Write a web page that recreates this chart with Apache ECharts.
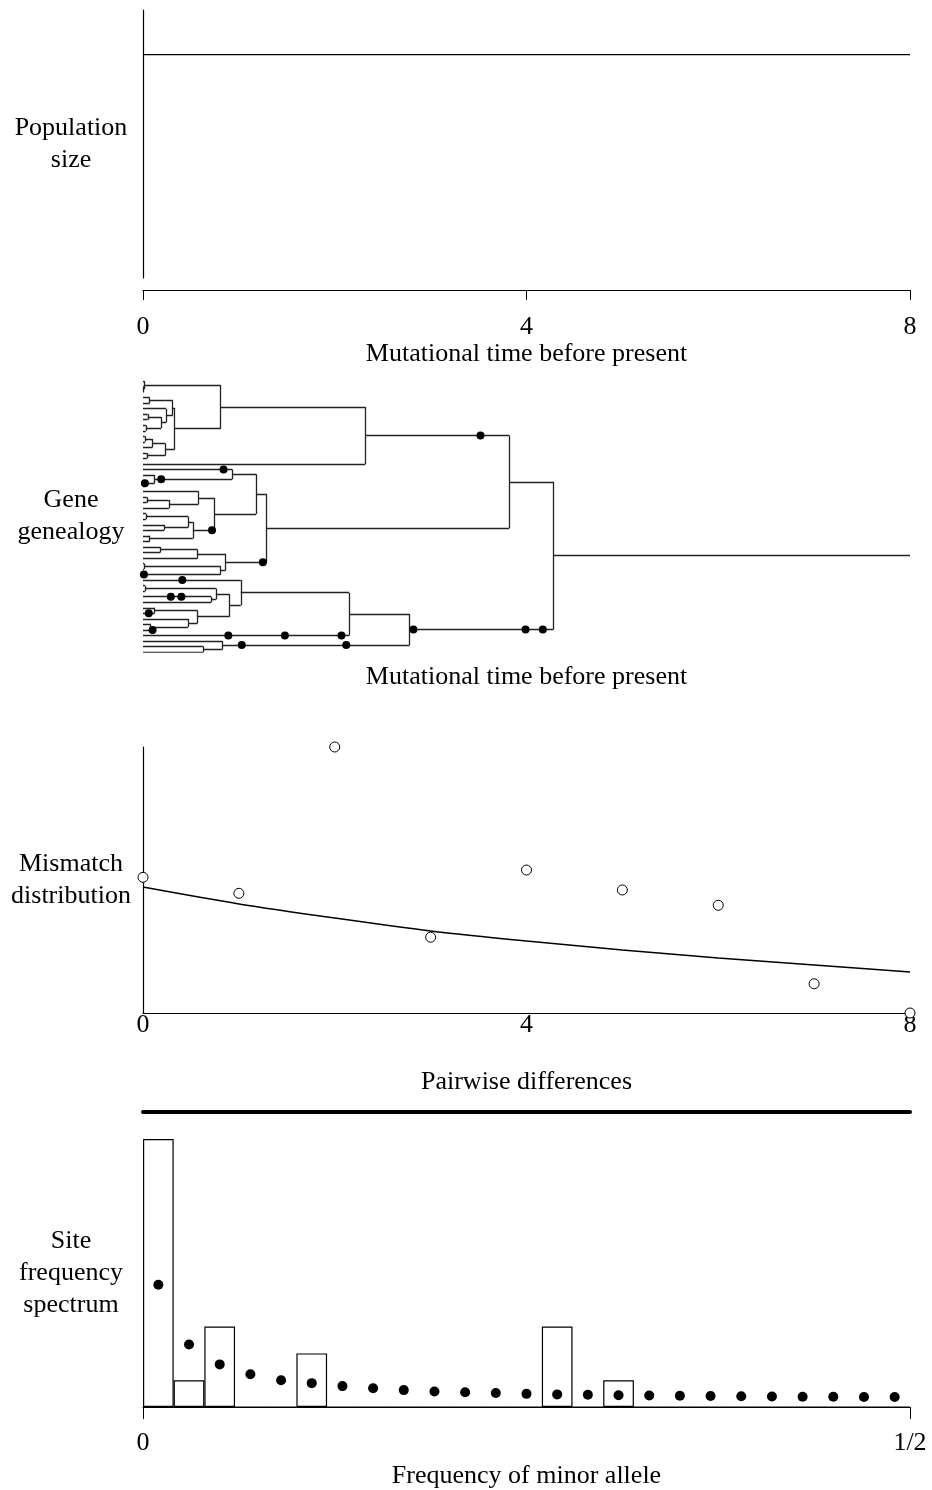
<!DOCTYPE html>
<html><head><meta charset="utf-8">
<script src="https://cdn.jsdelivr.net/npm/echarts@6/dist/echarts.min.js"></script>
<style>html,body{margin:0;padding:0;background:#fff}#c{width:932px;height:1490px}</style>
</head><body><div id="c"></div>
<script>
// ---------- data ----------
const timeTicks = [0, 4, 8];
const popSize = [[0, 1.0], [8, 1.0]];

// Genealogy: node = N(time, children, mutationTimesOnBranchAbove); tip = T(mutationTimes)
const T = (m = []) => ({ t: 0, k: [], m });
const N = (t, k, m = []) => ({ t, k, m });

const cladeA = N(2.32, [
  N(0.81, [
    N(0.01, [T(), N(0.005, [T(), T()])]),
    N(0.33, [
      N(0.31, [
        N(0.07, [T(), T()]),
        N(0.24, [T(), N(0.19, [N(0.05, [T(), T()]), N(0.03, [T(), T()])])])
      ]),
      N(0.23, [N(0.10, [N(0.02, [T(), T()]), T()]), N(0.04, [T(), T()])])
    ])
  ]),
  T()
], [3.52]);

const cladeB = N(1.29, [
  N(1.18, [
    N(0.93, [
      T([0.84]),
      N(0.12, [T(), N(0.015, [T(), T()], [0.02])], [0.19])
    ]),
    N(0.74, [
      N(0.58, [T(), N(0.27, [N(0.04, [T(), T()]), T()])]),
      N(0.52, [N(0.47, [N(0.03, [T(), T()]), N(0.22, [T(), T()])]), N(0.07, [T(), T()])], [0.72])
    ])
  ]),
  N(0.86, [
    N(0.57, [N(0.18, [T(), T()]), T()]),
    N(0.81, [N(0.01, [T(), T()]), T([0.01])])
  ], [1.25])
]);

const cladeC = N(2.78, [
  N(2.15, [
    N(1.02, [
      T([0.41]),
      N(0.90, [
        N(0.76, [N(0.02, [T(), T()]), N(0.71, [T([0.29, 0.40]), T()])]),
        N(0.57, [N(0.12, [T(), T([0.06])]), N(0.47, [T(), N(0.08, [T(), T([0.10])])])])
      ])
    ]),
    T([0.89, 1.48, 2.07])
  ]),
  N(0.83, [T(), N(0.63, [T(), T()])], [1.03, 2.12])
], [2.82, 3.99, 4.17]);

const genealogy = N(4.28, [N(3.82, [cladeA, cladeB]), cladeC]);
const rootStemEnd = 8;

const mismatchK = [0, 1, 2, 3, 4, 5, 6, 7, 8];
const mismatchObserved = [0.102, 0.090, 0.200, 0.057, 0.1075, 0.0925, 0.081, 0.022, 0.0];
const mismatchExpected = [0.0947, 0.082, 0.0714, 0.0617, 0.0541, 0.0474, 0.0414, 0.0361, 0.0308];

const sfsBins = Array.from({ length: 25 }, (_, i) => String(i + 1));
const sfsObserved = [10, 1, 3, 0, 0, 2, 0, 0, 0, 0, 0, 0, 0, 3, 0, 1, 0, 0, 0, 0, 0, 0, 0, 0, 0];
const sfsExpected = [4.56, 2.33, 1.59, 1.22, 1.00, 0.89, 0.78, 0.70, 0.63, 0.58, 0.55, 0.52, 0.49,
  0.47, 0.46, 0.44, 0.43, 0.42, 0.41, 0.40, 0.39, 0.385, 0.38, 0.375, 0.37];
const sfsTicks = [0, 0.5];
const sfsTickLabels = ['0', '1/2'];

// ---------- tree layout (tip order -> y index) ----------
let tipCounter = 0;
function layout(n) {
  if (n.k.length === 0) { n.y = tipCounter++; return; }
  n.k.forEach(layout);
  n.y = (n.k[0].y + n.k[n.k.length - 1].y) / 2;
}
layout(genealogy);
const segs = [], muts = [];
function collect(n, parent) {
  if (n.k.length) segs.push({ coords: [[n.t, n.k[0].y], [n.t, n.k[n.k.length - 1].y]] });
  const top = parent ? parent.t : rootStemEnd;
  segs.push({ coords: [[n.t, n.y], [top, n.y]] });
  n.m.forEach(m => muts.push([m, n.y]));
  n.k.forEach(c => collect(c, n));
}
collect(genealogy, null);

// ---------- chart ----------
const FONT = "'Liberation Serif', 'DejaVu Serif', serif";
const FS = 26;
const txt = { color: '#000', fontFamily: FONT, fontSize: FS };
const yName = (s) => ({
  name: s, nameLocation: 'middle', nameRotate: 0, nameGap: 72,
  nameTextStyle: Object.assign({ align: 'center', verticalAlign: 'middle', lineHeight: 32 }, txt)
});
const blackLine = { show: true, onZero: false, lineStyle: { color: '#000', width: 1.2 } };
const off = { show: false };

const chart = echarts.init(document.getElementById('c'), null, { renderer: 'canvas' });
chart.setOption({
  animation: false,
  backgroundColor: '#fff',
  grid: [
    { left: 143, width: 767, top: 10, height: 268 },
    { left: 143, width: 767, top: 381, height: 271 },
    { left: 143, width: 767, top: 747, height: 266 },
    { left: 143, width: 767, top: 1139, height: 269 }
  ],
  xAxis: [
    { gridIndex: 0, type: 'value', min: 0, max: 8, interval: 4, offset: 12,
      axisLine: blackLine, axisTick: { show: true, length: 10, lineStyle: { color: '#000' } },
      axisLabel: Object.assign({ margin: 24 }, txt), splitLine: off,
      name: 'Mutational time before present', nameLocation: 'middle', nameGap: 51, nameTextStyle: txt },
    { gridIndex: 1, type: 'value', min: 0, max: 8, axisLine: off, axisTick: off, axisLabel: off, splitLine: off,
      name: 'Mutational time before present', nameLocation: 'middle', nameGap: 12, nameTextStyle: txt },
    { gridIndex: 2, type: 'value', min: 0, max: 8, interval: 4,
      axisLine: blackLine, axisTick: off, axisLabel: Object.assign({ margin: -1 }, txt), splitLine: off,
      name: 'Pairwise differences', nameLocation: 'middle', nameGap: 56, nameTextStyle: txt },
    { gridIndex: 3, type: 'value', min: 0, max: 0.5, interval: 0.5,
      axisLine: blackLine, axisTick: { show: true, length: 12, lineStyle: { color: '#000' } },
      axisLabel: Object.assign({ margin: 23, formatter: v => sfsTickLabels[sfsTicks.indexOf(v)] }, txt),
      splitLine: off,
      name: 'Frequency of minor allele', nameLocation: 'middle', nameGap: 56, nameTextStyle: txt },
    { gridIndex: 3, type: 'category', data: sfsBins, show: false, boundaryGap: true },
    { gridIndex: 3, type: 'value', position: 'top', offset: 27, min: 0, max: 1,
      axisLine: { show: true, lineStyle: { color: '#000', width: 4 } },
      axisTick: off, axisLabel: off, splitLine: off }
  ],
  yAxis: [
    Object.assign({ gridIndex: 0, type: 'value', min: 0, max: 1.2, axisLine: blackLine,
      axisTick: off, axisLabel: off, splitLine: off }, yName('Population\nsize')),
    Object.assign({ gridIndex: 1, type: 'value', min: 0, max: 49, inverse: true, axisLine: off,
      axisTick: off, axisLabel: off, splitLine: off }, yName('Gene\ngenealogy')),
    Object.assign({ gridIndex: 2, type: 'value', min: 0, max: 0.2, axisLine: blackLine,
      axisTick: off, axisLabel: off, splitLine: off }, yName('Mismatch\ndistribution')),
    Object.assign({ gridIndex: 3, type: 'value', min: 0, max: 10, axisLine: off,
      axisTick: off, axisLabel: off, splitLine: off }, yName('Site\nfrequency\nspectrum'))
  ],
  series: [
    { type: 'line', xAxisIndex: 0, yAxisIndex: 0, data: popSize, symbol: 'none',
      lineStyle: { color: '#000', width: 1.2 } },
    { type: 'lines', coordinateSystem: 'cartesian2d', xAxisIndex: 1, yAxisIndex: 1, data: segs,
      lineStyle: { color: '#222', width: 1.3, opacity: 1, curveness: 0 }, silent: true },
    { type: 'scatter', xAxisIndex: 1, yAxisIndex: 1, data: muts, symbolSize: 8, clip: false,
      itemStyle: { color: '#000', opacity: 1 }, z: 5 },
    { type: 'line', xAxisIndex: 2, yAxisIndex: 2, data: mismatchK.map((k, i) => [k, mismatchExpected[i]]),
      smooth: 0.3, symbol: 'none', lineStyle: { color: '#000', width: 1.5 } },
    { type: 'scatter', xAxisIndex: 2, yAxisIndex: 2, data: mismatchK.map((k, i) => [k, mismatchObserved[i]]),
      symbolSize: 10, clip: false,
      itemStyle: { color: '#fff', borderColor: '#000', borderWidth: 1, opacity: 1 }, z: 5 },
    { type: 'bar', xAxisIndex: 4, yAxisIndex: 3, data: sfsObserved, barCategoryGap: '0%',
      itemStyle: { color: '#fff', borderColor: '#000', borderWidth: 1.2 } },
    { type: 'scatter', xAxisIndex: 4, yAxisIndex: 3, data: sfsExpected, symbolSize: 10, clip: false,
      itemStyle: { color: '#000', opacity: 1 }, z: 5 }
  ]
});
</script></body></html>
